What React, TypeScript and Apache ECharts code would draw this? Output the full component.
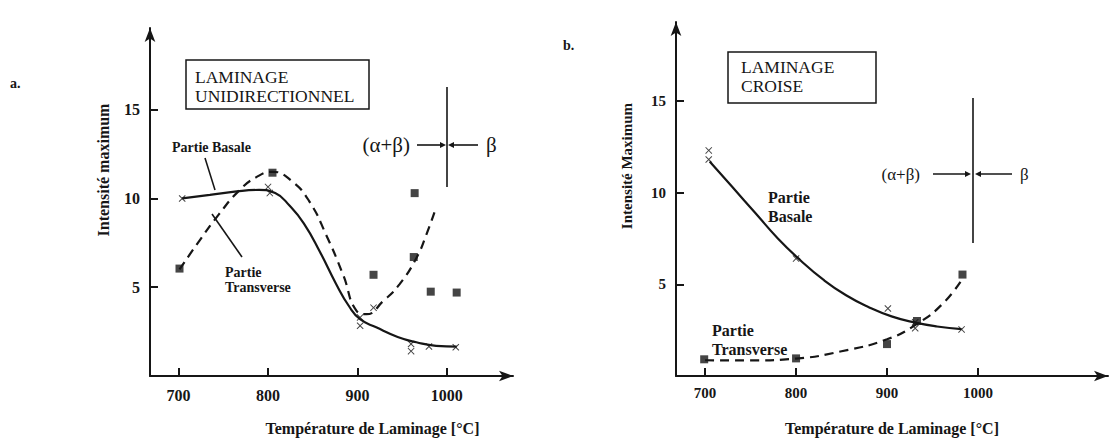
import React, { useEffect, useRef } from "react";
import * as echarts from "echarts";

// ---------- data ----------
const xTickValues = [700, 800, 900, 1000];
const yTickValues = [5, 10, 15];

// Chart a. LAMINAGE UNIDIRECTIONNEL
const aBasaleCurve: [number, number][] = [
  [704, 10.0], [735, 10.2], [765, 10.4], [790, 10.48], [808, 10.3], [824, 9.6], [840, 8.6],
  [858, 7.0], [876, 5.2], [891, 3.9], [903, 3.2], [921, 2.74], [945, 2.2], [966, 1.9],
  [988, 1.7], [1011, 1.66],
];
const aBasaleMarks: [number, number][] = [
  [704, 10.0], [800, 10.65], [802, 10.3], [903, 2.83], [960, 1.8], [960, 1.4], [980, 1.66], [1010, 1.62],
];
const aTransCurve: [number, number][] = [
  [701, 6.0], [723, 7.6], [745, 9.1], [768, 10.46], [787, 11.2], [805, 11.5], [826, 11.0],
  [846, 9.85], [865, 7.95], [884, 5.7], [899, 3.67], [910, 3.48], [929, 4.23], [947, 5.16],
  [966, 6.65], [977, 7.95], [987, 9.35],
];
const aTransSquares: [number, number][] = [
  [701, 6.05], [805, 11.45], [918, 5.7], [964, 10.3], [963, 6.7], [982, 4.75], [1011, 4.7],
];
const aTransMarks: [number, number][] = [[903, 3.3], [918, 3.85]];

// Chart b. LAMINAGE CROISE
const bBasaleCurve: [number, number][] = [
  [705, 11.7], [730, 10.3], [755, 8.9], [780, 7.5], [805, 6.3], [830, 5.25], [855, 4.4],
  [880, 3.75], [905, 3.25], [930, 2.92], [955, 2.7], [982, 2.56],
];
const bBasaleMarks: [number, number][] = [
  [704, 12.3], [704, 11.8], [800, 6.4], [901, 3.68], [931, 2.93], [931, 2.6], [982, 2.54],
];
const bTransCurve: [number, number][] = [
  [700, 0.86], [750, 0.85], [800, 0.95], [850, 1.35], [900, 2.0], [933, 2.84], [962, 3.98], [984, 5.38],
];
const bTransSquares: [number, number][] = [
  [699, 0.91], [800, 0.96], [900, 1.74], [933, 3.0], [983, 5.53],
];

// ---------- styling ----------
const INK = "#161616";
const SERIF = "'Liberation Serif', 'DejaVu Serif', serif";
const X_SYMBOL = "path://M1,0L5,4L9,0L10,1L6,5L10,9L9,10L5,6L1,10L0,9L4,5L0,1Z";

function axisX(gridIndex: number, min: number, max: number, fs: number, margin: number, name: string, pad: number) {
  return {
    type: "value", gridIndex, min, max,
    name, nameLocation: "middle", nameGap: 44,
    nameTextStyle: { fontFamily: SERIF, fontWeight: "bold", fontSize: 16, color: INK, padding: [0, 0, 0, pad] },
    axisLine: { show: true, lineStyle: { color: INK, width: 2 }, symbol: ["none", "arrow"], symbolSize: [8, 14] },
    axisTick: { show: true, inside: true, length: 8, customValues: xTickValues, lineStyle: { color: INK, width: 2 } },
    axisLabel: {
      customValues: xTickValues, margin, formatter: (v: number) => String(v),
      fontFamily: SERIF, fontWeight: "bold", fontSize: fs, color: INK,
    },
    splitLine: { show: false },
  };
}
function axisY(gridIndex: number, max: number, fs: number) {
  return {
    type: "value", gridIndex, min: 0, max,
    axisLine: { show: true, lineStyle: { color: INK, width: 2 }, symbol: ["none", "arrow"], symbolSize: [8, 14] },
    axisTick: { show: true, inside: true, length: 8, customValues: yTickValues, lineStyle: { color: INK, width: 2 } },
    axisLabel: { customValues: yTickValues, margin: 10, formatter: (v: number) => String(v), fontFamily: SERIF, fontWeight: "bold", fontSize: fs, color: INK },
    splitLine: { show: false },
  };
}
function curve(idx: number, data: [number, number][], dashed: boolean) {
  return {
    type: "line", xAxisIndex: idx, yAxisIndex: idx, data, smooth: 0.5, showSymbol: false,
    lineStyle: { color: INK, width: 2.2, type: dashed ? [9, 6] : "solid" }, z: 2,
  };
}
function marks(idx: number, data: [number, number][], square: boolean) {
  return {
    type: "scatter", xAxisIndex: idx, yAxisIndex: idx, data,
    symbol: square ? "rect" : X_SYMBOL, symbolSize: square ? 8 : 7,
    itemStyle: { color: INK }, z: 3,
  };
}
function txt(x: number, y: number, text: string, fs: number, bold = true, align = "left", lh = 0, extra: any = {}) {
  return {
    type: "text", x, y,
    style: { text, fontFamily: SERIF, fontSize: fs, fontWeight: bold ? "bold" : "normal", fill: INK, align, verticalAlign: "middle", lineHeight: lh || fs + 3 },
    ...extra,
  };
}
function line(x1: number, y1: number, x2: number, y2: number, w = 1.6) {
  return { type: "line", shape: { x1, y1, x2, y2 }, style: { stroke: INK, lineWidth: w } };
}
function head(x: number, y: number, dir: number, s = 6) {
  return { type: "polygon", shape: { points: [[x, y], [x - dir * s, y - s / 2], [x - dir * s, y + s / 2]] }, style: { fill: INK } };
}

export default function App() {
  const ref = useRef<HTMLDivElement>(null);
  useEffect(() => {
    if (!ref.current) return;
    const chart = echarts.init(ref.current, null, { renderer: "svg" });
    chart.setOption({
      animation: false,
      backgroundColor: "#ffffff",
      grid: [
        { left: 150, top: 28, width: 363, height: 351 },
        { left: 676, top: 22, width: 432, height: 367 },
      ],
      xAxis: [
        axisX(0, 668, 1074, 16, 11, "Température de Laminage [°C]", 82),
        axisX(1, 668, 1143, 15, 9, "Température de Laminage [°C]", 0),
      ],
      yAxis: [axisY(0, 19.6, 16), axisY(1, 19.3, 15)],
      series: [
        curve(0, aBasaleCurve, false),
        marks(0, aBasaleMarks, false),
        curve(0, aTransCurve, true),
        marks(0, aTransSquares, true),
        marks(0, aTransMarks, false),
        curve(1, bBasaleCurve, false),
        marks(1, bBasaleMarks, false),
        curve(1, bTransCurve, true),
        marks(1, bTransSquares, true),
      ],
      graphic: [
        txt(10, 83, "a.", 14),
        txt(563, 45, "b.", 14),
        // y axis names
        txt(103, 170, "Intensité maximum", 16, true, "center", 0, { rotation: Math.PI / 2 }),
        txt(627, 166, "Intensité Maximum", 15, true, "center", 0, { rotation: Math.PI / 2 }),
        // chart a box
        { type: "rect", shape: { x: 186, y: 60, width: 183, height: 49 }, style: { fill: "none", stroke: INK, lineWidth: 1.5 } },
        txt(195, 86.5, "LAMINAGE\nUNIDIRECTIONNEL", 17.5, false, "left", 19),
        // chart a labels
        txt(172, 147, "Partie Basale", 14),
        line(205, 158, 215, 190),
        txt(225, 279.5, "Partie\nTransverse", 14, true, "left", 15),
        line(242, 257, 212, 214),
        // chart a phase marker
        line(447, 87, 447, 187),
        txt(410, 145, "(α+β)", 21, false, "right"),
        line(417, 145, 443, 145),
        head(446, 145, 1),
        line(478, 145, 452, 145),
        head(448, 145, -1),
        txt(486, 145, "β", 21, false),
        // chart b box
        { type: "rect", shape: { x: 728, y: 52, width: 148, height: 51 }, style: { fill: "none", stroke: INK, lineWidth: 1.5 } },
        txt(741, 76.5, "LAMINAGE\nCROISE", 17.5, false, "left", 19),
        // chart b labels
        txt(768, 207, "Partie\nBasale", 16, true, "left", 19),
        txt(712, 340, "Partie\nTransverse", 16, true, "left", 19),
        // chart b phase marker
        line(973, 98, 973, 243),
        txt(920, 174, "(α+β)", 17, false, "right"),
        line(933, 174, 968, 174),
        head(971, 174, 1),
        line(1012, 174, 978, 174),
        head(975, 174, -1),
        txt(1020, 174, "β", 17, false),
      ],
    });
    return () => chart.dispose();
  }, []);
  return <div ref={ref} style={{ position: "absolute", left: 0, top: 0, width: 1110, height: 441 }} />;
}
